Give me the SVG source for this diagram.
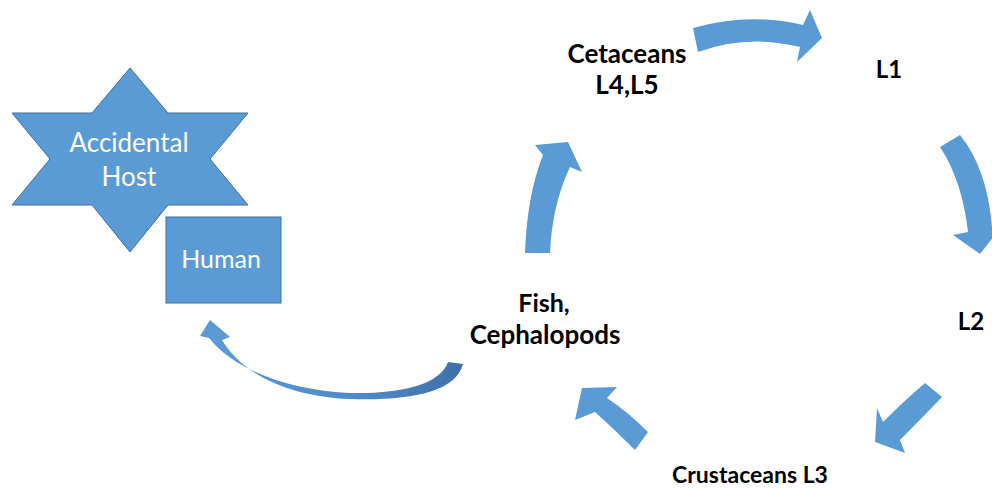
<svg xmlns="http://www.w3.org/2000/svg" width="992" height="488" viewBox="0 0 992 488">
<defs>
<style>
.shape{fill:#5B9BD5;stroke:#41719C;stroke-width:1}
.arrow{fill:#5B9BD5}
.wt{font-family:Lato,"Liberation Sans",sans-serif;fill:#fff;text-anchor:middle}
.lbl{font-family:Lato,"Liberation Sans",sans-serif;font-weight:bold;fill:#000;text-anchor:middle}
</style>
<linearGradient id="cg" x1="205" y1="0" x2="465" y2="0" gradientUnits="userSpaceOnUse">
<stop offset="0" stop-color="#5B9BD5"/>
<stop offset="0.6" stop-color="#5089C8"/>
<stop offset="1" stop-color="#3F6FA6"/>
</linearGradient>
</defs>
<rect width="992" height="488" fill="#fff"/>
<g id="accidental-host">
<polygon class="shape" points="130,68 168,113 248,113 210,159 248,205 168,205 130,252 92,205 12,205 50,159 12,113 92,113"/>
<text class="wt" x="129" y="152" font-size="26">Accidental</text>
<text class="wt" x="129" y="186" font-size="26">Host</text>
</g>
<g id="human">
<rect class="shape" x="166" y="217" width="115" height="86"/>
<text class="wt" x="221" y="268" font-size="25">Human</text>
</g>
<g id="cetaceans">
<text class="lbl" x="627" y="63" font-size="26">Cetaceans</text>
<text class="lbl" x="627" y="94" font-size="26">L4,L5</text>
</g>
<g id="l1"><text class="lbl" x="889" y="78" font-size="24">L1</text></g>
<g id="l2"><text class="lbl" x="971" y="330" font-size="24">L2</text></g>
<g id="crustaceans"><text class="lbl" x="750" y="483" font-size="23">Crustaceans L3</text></g>
<g id="fish">
<text class="lbl" x="544" y="312" font-size="25">Fish,</text>
<text class="lbl" x="545" y="344" font-size="26">Cephalopods</text>
</g>
<g id="connectors">
<path class="arrow" d="M693,28 Q748,12 803,25 L810,10 L822,38 L797,62 L800,47 Q748,34 698,52 Z"/>
<path class="arrow" d="M940,147 Q962,180 968,232 L953,235 L980,254 L1005,222 L992,227 Q987,168 960,135 Z"/>
<path class="arrow" d="M925,383 Q905,400 883,422 L877,408 L875,442 L905,453 L900,440 Q922,418 942,397 Z"/>
<path class="arrow" d="M648,432 Q628,412 607,398 L617,387 L582,388 L575,420 L595,412 Q615,430 635,450 Z"/>
<path class="arrow" d="M525,253 Q527,195 543,155 L535,145 L568,142 L582,172 L570,167 Q552,205 550,253 Z"/>
<path fill="url(#cg)" d="M463,364 C456,392 410,401 350,399 C295,397 245,378 222,340 L230,337 L210,320 L200,336 L209,338 C238,374 298,391 350,393 C400,394 440,385 448,362 Z"/>
</g>
</svg>
